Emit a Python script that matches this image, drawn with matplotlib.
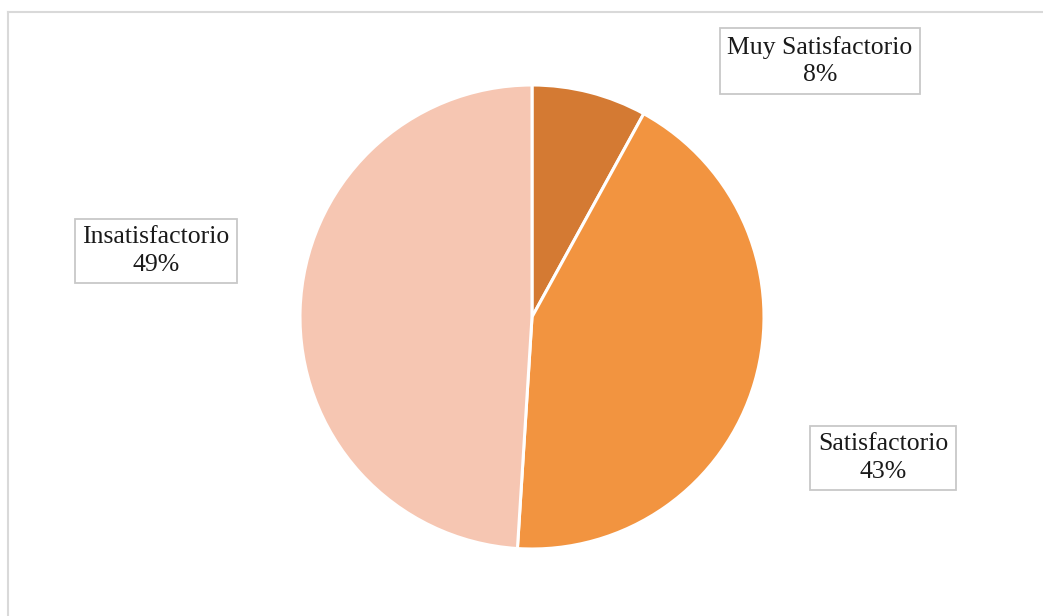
import matplotlib.pyplot as plt
from matplotlib.lines import Line2D

# datos de la encuesta
categorias = ['Muy Satisfactorio', 'Satisfactorio', 'Insatisfactorio']
porcentajes = [8, 43, 49]
colores = ['#D47A33', '#F29440', '#F6C6B2']

W, H = 1043, 616
fig = plt.figure(figsize=(W / 100, H / 100), dpi=100)
fig.patch.set_facecolor('white')

# eje del pastel (centro y radio en pixeles)
cx, cy, r = 532, 317, 232
ax = fig.add_axes([(cx - r) / W, (H - cy - r) / H, 2 * r / W, 2 * r / H])
ax.pie(porcentajes, colors=colores, startangle=90, counterclock=False,
       radius=1, wedgeprops=dict(edgecolor='white', linewidth=2.2))
ax.set_xlim(-1, 1)
ax.set_ylim(-1, 1)
ax.set_aspect('equal')
ax.axis('off')

# marco del area del grafico
borde = '#d9d9d9'
fig.add_artist(Line2D([8 / W, 8 / W], [0, (H - 12) / H], color=borde, lw=1.5))
fig.add_artist(Line2D([8 / W, 1], [(H - 12) / H, (H - 12) / H], color=borde, lw=1.5))

# etiquetas de datos con recuadro
posiciones = {'Muy Satisfactorio': (820, 61),
              'Satisfactorio': (883, 458),
              'Insatisfactorio': (156, 251)}
for cat, val in zip(categorias, porcentajes):
    x, y = posiciones[cat]
    fig.text(x / W, (H - y) / H, f'{cat}\n{val}%', ha='center', va='center',
             fontsize=18.5, family='Liberation Serif', color='#1a1a1a',
             linespacing=1.32,
             bbox=dict(boxstyle='square,pad=0.3', facecolor='white',
                       edgecolor='#c8c8c8', linewidth=1.3))

plt.savefig('out.png', dpi=100)
